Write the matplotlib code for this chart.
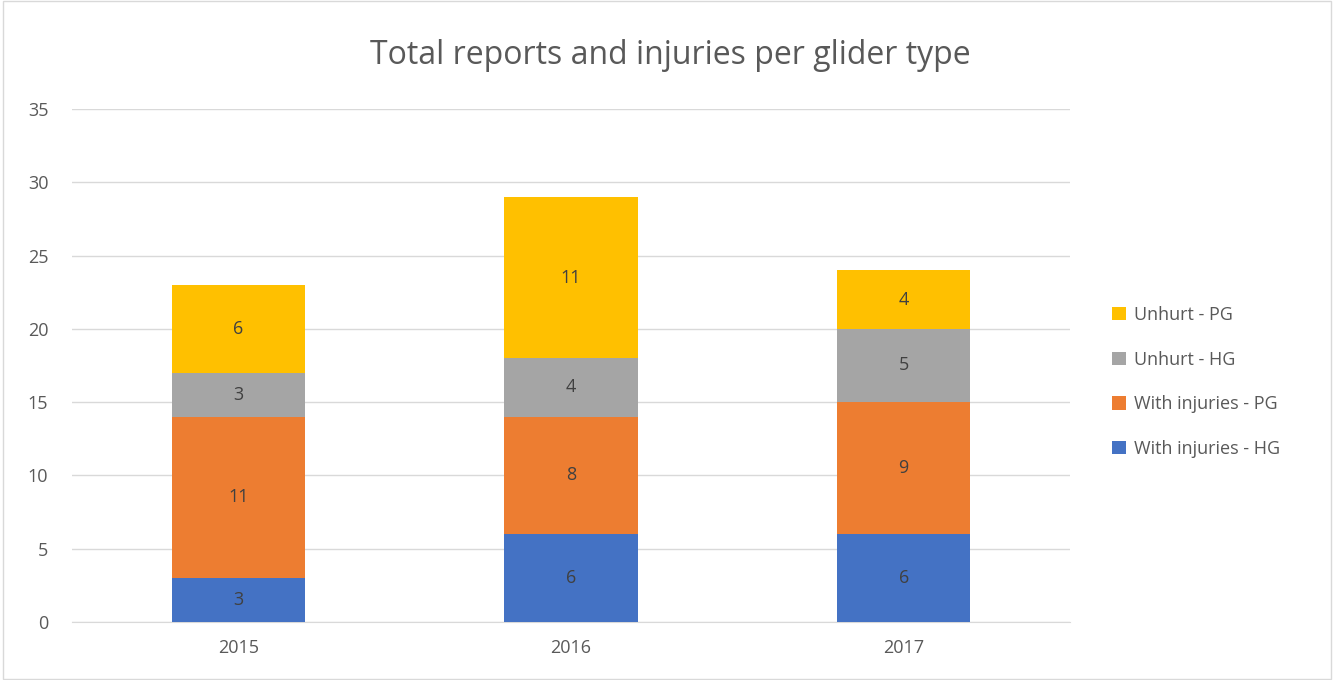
import matplotlib
matplotlib.use("Agg")
import matplotlib.pyplot as plt
import numpy as np

years = ["2015", "2016", "2017"]
series_names = ["With injuries - HG", "With injuries - PG", "Unhurt - HG", "Unhurt - PG"]
with_inj_hg = [3, 6, 6]
with_inj_pg = [11, 8, 9]
unhurt_hg = [3, 4, 5]
unhurt_pg = [6, 11, 4]
colors = ["#4472C4", "#ED7D31", "#A5A5A5", "#FFC000"]
yticks = [0, 5, 10, 15, 20, 25, 30, 35]

plt.rcParams['font.family'] = ['Open Sans', 'DejaVu Sans']

fig = plt.figure(figsize=(13.34, 6.8), dpi=100)
ax = fig.add_axes([72/1334, 1-622/680, (1070-72)/1334, (622-109)/680])

x = np.arange(len(years))
bottom = np.zeros(len(years))
handles = []
for vals, name, col in zip([with_inj_hg, with_inj_pg, unhurt_hg, unhurt_pg], series_names, colors):
    vals = np.array(vals, dtype=float)
    b = ax.bar(x, vals, 0.4, bottom=bottom, color=col, label=name, zorder=3)
    handles.append(b)
    for xi, v, bt in zip(x, vals, bottom):
        ax.text(xi, bt + v/2, f"{int(v)}", ha="center", va="center", fontsize=13, color="#404040", zorder=4)
    bottom += vals

ax.set_xlim(-0.5, 2.5)
ax.set_ylim(0, 35)
ax.set_yticks(yticks)
ax.set_xticks(x)
ax.set_xticklabels(years)
ax.tick_params(axis='both', length=0, labelsize=13, labelcolor="#595959")
ax.tick_params(axis='x', pad=12)
ax.tick_params(axis='y', pad=17)
ax.grid(axis='y', color="#D9D9D9", linewidth=1, zorder=0)
for s in ["top", "right", "left"]:
    ax.spines[s].set_visible(False)
ax.spines["bottom"].set_color("#D9D9D9")
ax.set_axisbelow(True)

fig.text(670/1334, 1-55/680, "Total reports and injuries per glider type", ha="center", va="center",
         fontsize=23, color="#595959")

leg = fig.legend(handles[::-1], series_names[::-1], loc="center left", bbox_to_anchor=(1096/1334, 1-382/680),
                 frameon=False, fontsize=13, labelcolor="#595959", handlelength=0.75, handleheight=0.75,
                 labelspacing=1.48, handletextpad=0.45)

# outer border
fig.patches.append(matplotlib.patches.Rectangle((0.002, 0.002), 0.996, 0.996, transform=fig.transFigure,
                                                fill=False, edgecolor="#D9D9D9", linewidth=1))

fig.savefig("out.png", dpi=100)
